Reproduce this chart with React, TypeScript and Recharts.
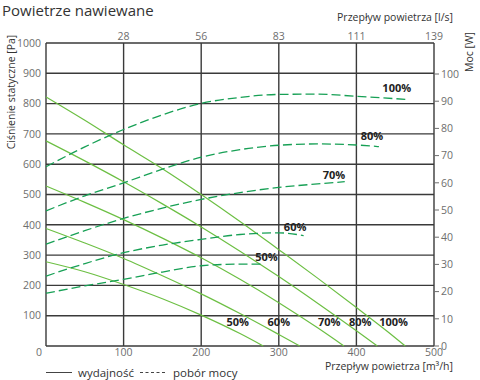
import React from "react";
import {
  LineChart,
  Line,
  XAxis,
  YAxis,
  CartesianGrid,
  ReferenceDot,
} from "recharts";

// flow [m³/h] axis
const flowTicks = [0, 100, 200, 300, 400, 500];
// same positions, in l/s for the top axis
const flowLsLabels = ["", "28", "56", "83", "111", "139"];
const pressureTicks = [0, 100, 200, 300, 400, 500, 600, 700, 800, 900, 1000];
const powerTicks = [0, 10, 20, 30, 40, 50, 60, 70, 80, 90, 100];

// wydajność – static pressure [Pa] vs flow [m³/h]
const fan100 = [
  { x: 0, y: 822 }, { x: 50, y: 745 }, { x: 100, y: 664 }, { x: 150, y: 585 },
  { x: 200, y: 500 }, { x: 250, y: 411 }, { x: 300, y: 318 }, { x: 350, y: 224 },
  { x: 400, y: 127 }, { x: 440, y: 48 }, { x: 463, y: 0 },
];
const fan80 = [
  { x: 0, y: 677 }, { x: 50, y: 611 }, { x: 100, y: 542 }, { x: 150, y: 469 },
  { x: 200, y: 393 }, { x: 250, y: 313 }, { x: 300, y: 229 }, { x: 350, y: 141 },
  { x: 400, y: 50 }, { x: 427, y: 0 },
];
const fan70 = [
  { x: 0, y: 528 }, { x: 50, y: 474 }, { x: 100, y: 417 }, { x: 150, y: 356 },
  { x: 200, y: 291 }, { x: 250, y: 220 }, { x: 300, y: 143 }, { x: 350, y: 60 },
  { x: 384, y: 0 },
];
const fan60 = [
  { x: 0, y: 388 }, { x: 50, y: 340 }, { x: 100, y: 289 }, { x: 150, y: 232 },
  { x: 200, y: 172 }, { x: 250, y: 107 }, { x: 300, y: 38 }, { x: 327, y: 0 },
];
const fan50 = [
  { x: 0, y: 278 }, { x: 50, y: 245 }, { x: 100, y: 203 }, { x: 150, y: 156 },
  { x: 200, y: 102 }, { x: 250, y: 41 }, { x: 280, y: 0 },
];

// pobór mocy – power [W] vs flow [m³/h]
const power100 = [
  { x: 0, y: 65.9 }, { x: 50, y: 73.2 }, { x: 100, y: 79.6 }, { x: 150, y: 85 },
  { x: 200, y: 89.2 }, { x: 250, y: 91.4 }, { x: 300, y: 92.5 }, { x: 350, y: 92.6 },
  { x: 400, y: 91.8 }, { x: 463, y: 90.7 },
];
const power80 = [
  { x: 0, y: 49.7 }, { x: 50, y: 55.2 }, { x: 100, y: 60 }, { x: 150, y: 65 },
  { x: 200, y: 69.4 }, { x: 250, y: 72.2 }, { x: 300, y: 73.8 }, { x: 350, y: 74.3 },
  { x: 400, y: 73.9 }, { x: 429, y: 73.3 },
];
const power70 = [
  { x: 0, y: 37.4 }, { x: 50, y: 42.4 }, { x: 100, y: 46.9 }, { x: 150, y: 50.7 },
  { x: 200, y: 53.9 }, { x: 250, y: 56.4 }, { x: 300, y: 58.3 }, { x: 350, y: 59.6 },
  { x: 385, y: 60.4 },
];
const power60 = [
  { x: 0, y: 25.7 }, { x: 50, y: 30.3 }, { x: 100, y: 34.3 }, { x: 150, y: 37.1 },
  { x: 200, y: 39.2 }, { x: 250, y: 41 }, { x: 300, y: 41.6 }, { x: 332, y: 40.6 },
];
const power50 = [
  { x: 0, y: 19.4 }, { x: 50, y: 22.1 }, { x: 100, y: 24.5 }, { x: 150, y: 27.2 },
  { x: 200, y: 29.5 }, { x: 250, y: 30.1 }, { x: 280, y: 30.1 },
];

// speed labels, anchored in data units
const fanLabels = [
  { name: "50%", x: 247, y: 80 },
  { name: "60%", x: 300, y: 80 },
  { name: "70%", x: 365, y: 80 },
  { name: "80%", x: 405, y: 80 },
  { name: "100%", x: 448, y: 80 },
];
const powerLabels = [
  { name: "100%", x: 452, y: 94.9 },
  { name: "80%", x: 420, y: 77 },
  { name: "70%", x: 371, y: 62.9 },
  { name: "60%", x: 321, y: 43.9 },
  { name: "50%", x: 284, y: 32.8 },
];

const fanSeries = [fan100, fan80, fan70, fan60, fan50];
const powerSeries = [power100, power80, power70, power60, power50];

const FONT = "'Open Sans', sans-serif";
const SOLID = "#6cbf43";
const DASHED = "#17a055";
const GRID = "#3a3a3a";
const TICK = { fill: "#6e6e6e", fontSize: 10.5 };

// bottom tick: the "0" sits a little left of the corner in the original
const FlowTick = (props: any) => {
  const { x, y, payload } = props;
  return (
    <text
      x={payload.value === 0 ? x - 7 : x}
      y={y}
      dy="0.71em"
      textAnchor="middle"
      fill={TICK.fill}
      fontSize={TICK.fontSize}
    >
      {payload.value}
    </text>
  );
};

export default function App() {
  return (
    <div
      style={{
        position: "absolute",
        left: 0,
        top: 0,
        width: 480,
        height: 380,
        background: "#fff",
        fontFamily: FONT,
      }}
    >
      <LineChart
        width={480}
        height={380}
        margin={{ top: 0, right: 0, bottom: 0, left: 0 }}
      >
        <XAxis
          xAxisId="m3h"
          type="number"
          dataKey="x"
          domain={[0, 500]}
          ticks={flowTicks}
          height={34}
          axisLine={false}
          tickLine={false}
          tickSize={0}
          tickMargin={3}
          tick={<FlowTick />}
        />
        <XAxis
          xAxisId="ls"
          orientation="top"
          type="number"
          dataKey="x"
          domain={[0, 500]}
          ticks={flowTicks}
          tickFormatter={(v: number) => flowLsLabels[flowTicks.indexOf(v)]}
          height={43}
          axisLine={false}
          tickLine={false}
          tickSize={0}
          tickMargin={3}
          tick={TICK}
        />
        <YAxis
          yAxisId="pa"
          type="number"
          domain={[0, 1000]}
          ticks={pressureTicks}
          tickFormatter={(v: number) => (v === 0 ? "" : String(v))}
          width={46}
          axisLine={false}
          tickLine={false}
          tickSize={0}
          tickMargin={5}
          tick={TICK}
        />
        <YAxis
          yAxisId="w"
          orientation="right"
          type="number"
          domain={[0, 111.4]}
          ticks={powerTicks}
          width={46}
          axisLine={false}
          tickLine={{ stroke: "#6e6e6e" }}
          tickSize={5}
          tickMargin={2}
          tick={TICK}
        />
        <CartesianGrid
          xAxisId="m3h"
          yAxisId="pa"
          stroke={GRID}
          strokeWidth={1.4}
        />
        {/* invisible series so the l/s axis gets its ticks */}
        <Line
          data={fan100}
          xAxisId="ls"
          yAxisId="pa"
          dataKey="y"
          stroke="none"
          dot={false}
          activeDot={false}
          isAnimationActive={false}
        />
        {fanSeries.map((d, i) => (
          <Line
            key={"fan" + i}
            data={d}
            xAxisId="m3h"
            yAxisId="pa"
            dataKey="y"
            type="monotone"
            stroke={SOLID}
            strokeWidth={1.2}
            dot={false}
            isAnimationActive={false}
          />
        ))}
        {powerSeries.map((d, i) => (
          <Line
            key={"pow" + i}
            data={d}
            xAxisId="m3h"
            yAxisId="w"
            dataKey="y"
            type="monotone"
            stroke={DASHED}
            strokeWidth={1.3}
            strokeDasharray="9 4"
            dot={false}
            isAnimationActive={false}
          />
        ))}
        {fanLabels.map((l) => (
          <ReferenceDot
            key={"fl" + l.name}
            xAxisId="m3h"
            yAxisId="pa"
            x={l.x}
            y={l.y}
            r={0}
            fill="none"
            stroke="none"
            label={{
              value: l.name,
              position: "center",
              fill: "#222",
              fontSize: 11,
              fontWeight: 700,
            }}
          />
        ))}
        {powerLabels.map((l) => (
          <ReferenceDot
            key={"pl" + l.name}
            xAxisId="m3h"
            yAxisId="w"
            x={l.x}
            y={l.y}
            r={0}
            fill="none"
            stroke="none"
            label={{
              value: l.name,
              position: "center",
              fill: "#222",
              fontSize: 11,
              fontWeight: 700,
            }}
          />
        ))}
      </LineChart>
      <svg
        width={480}
        height={380}
        style={{ position: "absolute", left: 0, top: 0, pointerEvents: "none" }}
      >
        <text x={2} y={15.5} fontSize={15} fill="#333">
          Powietrze nawiewane
        </text>
        <text x={453} y={20.5} fontSize={10.5} fill="#333" textAnchor="end">
          Przepływ powietrza [l/s]
        </text>
        <text x={453} y={370} fontSize={10.5} fill="#333" textAnchor="end">
          Przepływ powietrza [m³/h]
        </text>
        <text
          transform="translate(14.5,92) rotate(-90)"
          fontSize={10.5}
          fill="#333"
          textAnchor="middle"
        >
          Ciśnienie statyczne [Pa]
        </text>
        <text
          transform="translate(472.5,52) rotate(-90)"
          fontSize={10.5}
          fill="#333"
          textAnchor="middle"
        >
          Moc [W]
        </text>
        <line x1={46} x2={72} y1={372.5} y2={372.5} stroke="#444" strokeWidth={1} />
        <text x={78} y={376.5} fontSize={11.5} fill="#333">
          wydajność
        </text>
        <line
          x1={140}
          x2={167}
          y1={372.5}
          y2={372.5}
          stroke="#444"
          strokeWidth={1}
          strokeDasharray="3 2.5"
        />
        <text x={173} y={376.5} fontSize={11.5} fill="#333">
          pobór mocy
        </text>
      </svg>
    </div>
  );
}
